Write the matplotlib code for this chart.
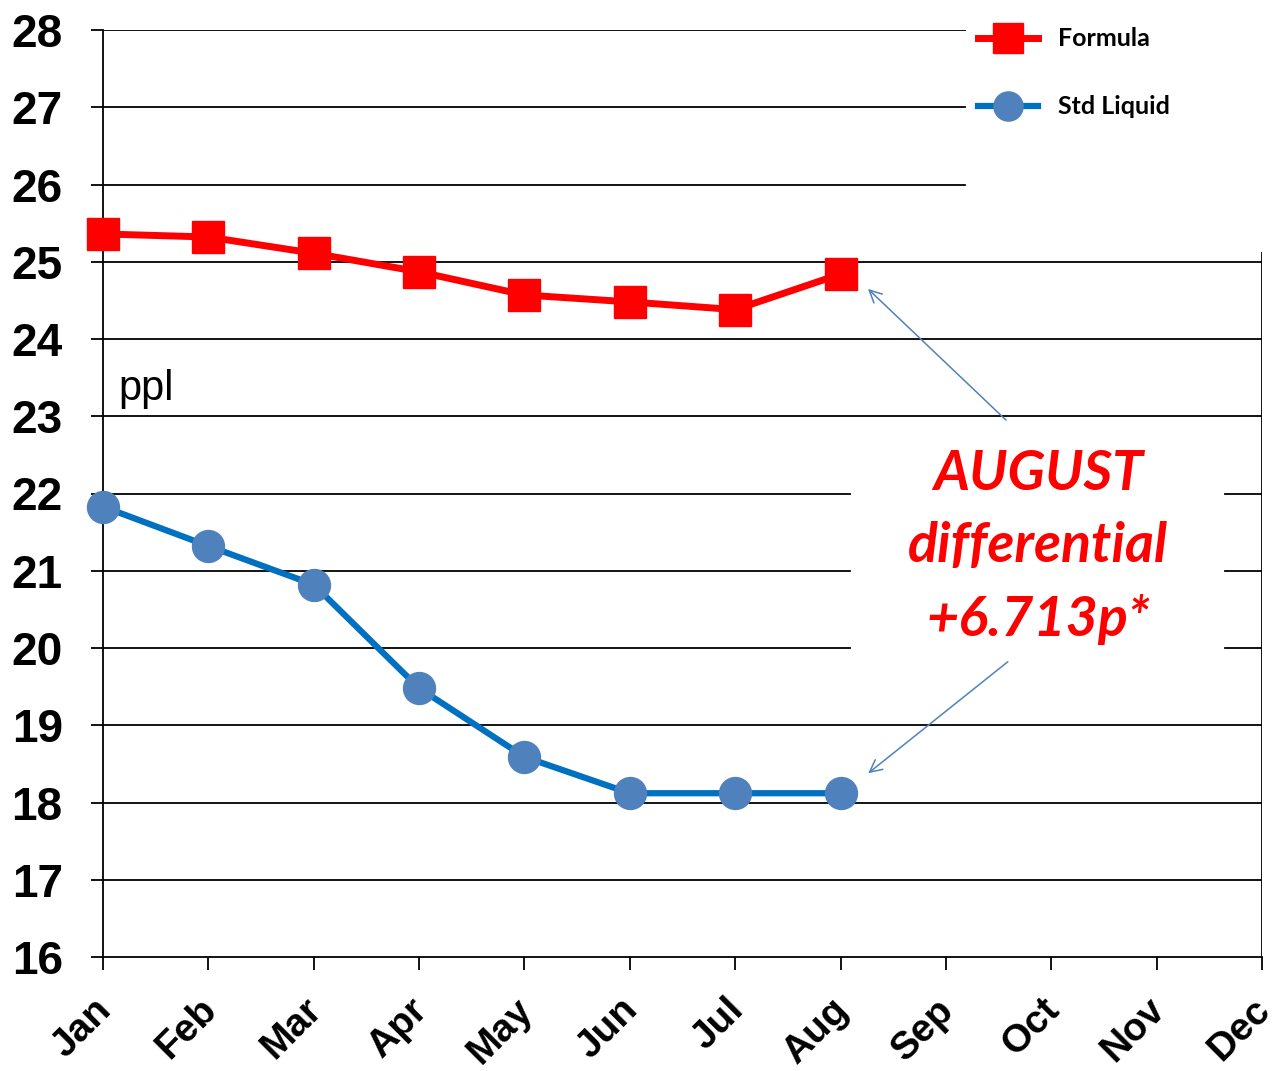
import matplotlib
matplotlib.use("Agg")
import matplotlib.pyplot as plt
from matplotlib.lines import Line2D
from matplotlib.transforms import ScaledTranslation

months = ['Jan', 'Feb', 'Mar', 'Apr', 'May', 'Jun', 'Jul', 'Aug', 'Sep', 'Oct', 'Nov', 'Dec']
formula = [25.36, 25.32, 25.11, 24.87, 24.57, 24.48, 24.38, 24.84]
std_liquid = [21.83, 21.32, 20.82, 19.48, 18.59, 18.12, 18.12, 18.12]
y_ticks = list(range(16, 29))
series_names = ['Formula', 'Std Liquid']
note_text = 'AUGUST\ndifferential\n+6.713p*'
unit_text = 'ppl'

W, H = 1276, 1071
fig = plt.figure(figsize=(W / 100, H / 100), dpi=100)
L, R, T, B = 103, 1262, 30, 957
ax = fig.add_axes([L / W, 1 - B / H, (R - L) / W, (B - T) / H])

xs = list(range(len(months)))
ax.set_xlim(0, len(months) - 1)
ax.set_ylim(16, 28)

def px_x(p):
    return (p - L) / (R - L) * (len(months) - 1)

def py_y(p):
    return 16 + (B - p) / (B - T) * 12

# gridlines (partial, as in the reference)
for v in y_ticks[1:]:
    if v >= 26:
        ax.plot([0, px_x(965)], [v, v], color='black', lw=1.3, zorder=1)
    elif 20 <= v <= 22:
        ax.plot([0, px_x(850)], [v, v], color='black', lw=1.3, zorder=1)
        ax.plot([px_x(1225), 11], [v, v], color='black', lw=1.3, zorder=1)
    else:
        ax.plot([0, 11], [v, v], color='black', lw=1.3, zorder=1)

# right border line
ax.plot([11, 11], [16, 25.11], color='black', lw=1.3, zorder=1)

for s in ['top', 'right']:
    ax.spines[s].set_visible(False)
for s in ['left', 'bottom']:
    ax.spines[s].set_linewidth(1.3)
    ax.spines[s].set_zorder(2)

ax.plot(xs[:len(formula)], formula, color='#FF0000', lw=5, marker='s',
        markersize=23, markerfacecolor='#FF0000', markeredgecolor='#FF0000',
        zorder=4, clip_on=False)
ax.plot(xs[:len(std_liquid)], std_liquid, color='#0070C0', lw=4.5, marker='o',
        markersize=23, markerfacecolor='#4F81BD', markeredgecolor='#4F81BD',
        zorder=4, clip_on=False)

ax.set_yticks(y_ticks)
ax.set_yticklabels([str(v) for v in y_ticks], fontsize=33, fontweight='bold',
                   family='Liberation Sans')
ax.set_xticks(xs)
ax.set_xticklabels(months, fontsize=28, fontweight='bold', family='Liberation Sans',
                   rotation=45, ha='right', va='top', rotation_mode='anchor')
ax.tick_params(axis='y', length=9, width=1.3, pad=20)
ax.tick_params(axis='x', length=9, width=1.3, pad=16)
shift = ScaledTranslation(-0.10, 0, fig.dpi_scale_trans)
for lab in ax.get_xticklabels():
    lab.set_transform(lab.get_transform() + shift)

# legend
handles = [
    Line2D([], [], color='#FF0000', lw=5, marker='s', markersize=21,
           markerfacecolor='#FF0000', markeredgecolor='#FF0000'),
    Line2D([], [], color='#0070C0', lw=4.5, marker='o', markersize=21,
           markerfacecolor='#4F81BD', markeredgecolor='#4F81BD'),
]
leg = fig.legend(handles, series_names, loc='upper left',
                 bbox_to_anchor=(955 / W, 1 - 5 / H), frameon=False,
                 prop={'family': 'Lato', 'weight': 'bold', 'size': 18},
                 handlelength=2.4, handletextpad=0.8, labelspacing=1.8)

# unit label
ax.text(px_x(118), 23.21, unit_text, fontsize=30, family='Liberation Sans',
        ha='left', va='baseline')

# annotation
ax.text(px_x(1038), py_y(547), note_text, color='#FF0000', fontsize=40,
        family='Lato', fontweight='bold', fontstyle='italic', ha='center',
        va='center', linespacing=1.55, zorder=5)
arrow_kw = dict(arrowstyle='->', color='#4F81BD', lw=1.1, mutation_scale=22)
ax.annotate('', xy=(px_x(866), py_y(287)), xytext=(px_x(1008), py_y(422)),
            arrowprops=arrow_kw)
ax.annotate('', xy=(px_x(866), py_y(775)), xytext=(px_x(1010), py_y(660)),
            arrowprops=arrow_kw)

fig.savefig('out.png', dpi=100)
